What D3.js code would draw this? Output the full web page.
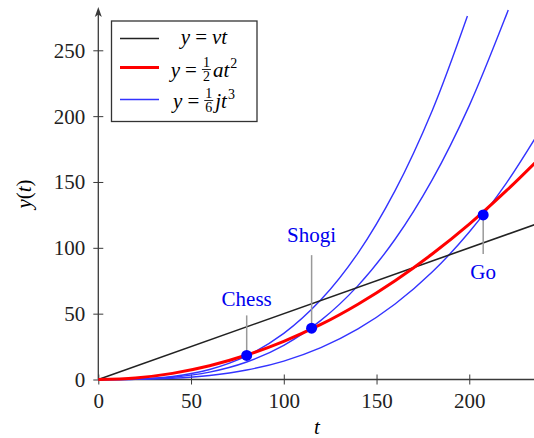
<!DOCTYPE html>
<html>
<head>
<meta charset="utf-8">
<script src="https://cdn.jsdelivr.net/npm/d3@7"></script>
<style>
  html, body { margin: 0; padding: 0; background: #fff; }
  svg { display: block; font-family: "Liberation Serif", "DejaVu Serif", serif; }
</style>
</head>
<body>
<svg id="chart" width="534" height="438"></svg>
<script>
// values
var tTicks = [0, 50, 100, 150, 200];
var yTicks = [0, 50, 100, 150, 200, 250];

var linearT = [0, 240];
var linearY = [0, 120];

var quadT = [0, 20, 40, 60, 80, 100, 120, 140, 160, 180, 200, 220, 240];
var quadY = [0, 1.16, 4.64, 10.4, 18.6, 29.0, 41.8, 57.2, 75.0, 95.3, 118.0, 143.4, 171.0];

var chessT = [0, 20, 40, 60, 80, 100, 120, 140, 160, 180, 199];
var chessY = [0, 0.28, 2.24, 7.56, 17.9, 35.0, 60.5, 96.0, 143.4, 204.1, 276];

var shogiT = [0, 20, 40, 60, 80, 100, 120, 140, 160, 180, 200, 220, 221];
var shogiY = [0, 0.21, 1.66, 5.62, 13.3, 26.0, 44.9, 71.3, 106.5, 151.6, 208.0, 276.9, 280.6];

var goT = [0, 20, 40, 60, 80, 100, 120, 140, 160, 180, 200, 220, 240];
var goY = [0, 0.11, 0.90, 3.02, 7.17, 14.0, 24.2, 38.4, 57.3, 81.6, 112.0, 149.1, 193.5];

var games = ["Chess", "Shogi", "Go"];
var gameT = [80, 115, 207.5];
var gameY = [18.3, 39.0, 125.0];

var svg = d3.select("#chart");

var x = d3.scaleLinear().domain([0, 235]).range([98.3, 534.2]);
var y = d3.scaleLinear().domain([0, 280]).range([379.5, 10.8]);

var zip = function(ts, ys) { return ts.map(function(t, i) { return [t, ys[i]]; }); };

var line = d3.line()
  .x(function(d) { return x(d[0]); })
  .y(function(d) { return y(d[1]); })
  .curve(d3.curveCatmullRom.alpha(0.5));

svg.append("defs").append("clipPath").attr("id", "plot")
  .append("rect").attr("x", 98).attr("y", 0).attr("width", 440).attr("height", 381);

// axes
var axisColor = "#3a3a3a";

var xAxis = svg.append("g")
  .attr("transform", "translate(0," + y(0) + ")")
  .call(d3.axisBottom(x).tickValues(tTicks).tickSize(5));
xAxis.select(".domain").remove();
xAxis.selectAll(".tick line").attr("y1", -5).attr("y2", 5).attr("stroke", axisColor);
xAxis.selectAll(".tick text")
  .attr("y", 28).attr("dy", null)
  .attr("font-family", "Liberation Serif").attr("font-size", 21).attr("fill", "#222");

var yAxis = svg.append("g")
  .attr("transform", "translate(" + x(0) + ",0)")
  .call(d3.axisLeft(y).tickValues(yTicks).tickSize(5));
yAxis.select(".domain").remove();
yAxis.selectAll(".tick line").attr("x1", -5).attr("x2", 5).attr("stroke", axisColor);
yAxis.selectAll(".tick text")
  .attr("x", -13).attr("dy", "0.33em")
  .attr("font-family", "Liberation Serif").attr("font-size", 21).attr("fill", "#222");

svg.append("line")
  .attr("x1", x(0)).attr("x2", 540).attr("y1", y(0)).attr("y2", y(0))
  .attr("stroke", axisColor).attr("stroke-width", 1.3);
svg.append("line")
  .attr("x1", x(0)).attr("x2", x(0)).attr("y1", y(0)).attr("y2", 14)
  .attr("stroke", axisColor).attr("stroke-width", 1.3);
svg.append("path")
  .attr("d", "M" + x(0) + ",7 L" + (x(0) - 3.5) + ",17 L" + x(0) + ",14.5 L" + (x(0) + 3.5) + ",17 Z")
  .attr("fill", axisColor);

// curves
var plot = svg.append("g").attr("clip-path", "url(#plot)");

var blueCurves = [zip(chessT, chessY), zip(shogiT, shogiY), zip(goT, goY)];
plot.selectAll("path.cubic").data(blueCurves).enter().append("path")
  .attr("class", "cubic")
  .attr("d", line)
  .attr("fill", "none").attr("stroke", "#3333ff").attr("stroke-width", 1.4);

plot.append("path")
  .attr("d", line(zip(linearT, linearY)))
  .attr("fill", "none").attr("stroke", "#222").attr("stroke-width", 1.6);

plot.append("path")
  .attr("d", line(zip(quadT, quadY)))
  .attr("fill", "none").attr("stroke", "#ff0000").attr("stroke-width", 3);

// game markers
var pinLen = [40, 73, -39];
var labelGap = [9, 13, -25];
var mark = svg.selectAll("g.game").data(games).enter().append("g").attr("class", "game");

mark.append("line")
  .attr("x1", function(d, i) { return x(gameT[i]); })
  .attr("x2", function(d, i) { return x(gameT[i]); })
  .attr("y1", function(d, i) { return y(gameY[i]); })
  .attr("y2", function(d, i) { return y(gameY[i]) - pinLen[i]; })
  .attr("stroke", "#999").attr("stroke-width", 1.5);

mark.append("circle")
  .attr("cx", function(d, i) { return x(gameT[i]); })
  .attr("cy", function(d, i) { return y(gameY[i]); })
  .attr("r", 5.5).attr("fill", "#0000ff");

mark.append("text")
  .attr("x", function(d, i) { return x(gameT[i]); })
  .attr("y", function(d, i) { return y(gameY[i]) - pinLen[i] - labelGap[i]; })
  .attr("text-anchor", "middle")
  .attr("font-size", 21).attr("fill", "#0000ee")
  .text(function(d) { return d; });

// axis labels
svg.append("text")
  .attr("x", 317).attr("y", 434)
  .attr("text-anchor", "middle").attr("font-size", 21).attr("font-style", "italic")
  .text("t");

var ylab = svg.append("text")
  .attr("transform", "translate(31,194) rotate(-90)")
  .attr("text-anchor", "middle").attr("font-size", 21);
ylab.append("tspan").attr("font-style", "italic").text("y");
ylab.append("tspan").text("(");
ylab.append("tspan").attr("font-style", "italic").text("t");
ylab.append("tspan").text(")");

// legend
var legend = svg.append("g");
legend.append("rect")
  .attr("x", 111.5).attr("y", 21).attr("width", 145.5).attr("height", 100.5)
  .attr("fill", "#fff").attr("stroke", "#333").attr("stroke-width", 1.3);

var legendRows = [
  { color: "#222", width: 1.6, ly: 38.5, base: 44,
    parts: [{ t: "y", i: true }, { eq: true }, { t: "vt", i: true }] },
  { color: "#ff0000", width: 3, ly: 67.5, base: 76.5,
    parts: [{ t: "y", i: true }, { eq: true }, { frac: ["1", "2"] }, { t: "at", i: true }, { sup: "2" }] },
  { color: "#3333ff", width: 1.4, ly: 99.5, base: 107.5,
    parts: [{ t: "y", i: true }, { eq: true }, { frac: ["1", "6"] }, { t: "jt", i: true }, { sup: "3" }] }
];

legendRows.forEach(function(row) {
  legend.append("line")
    .attr("x1", 120).attr("x2", 159).attr("y1", row.ly).attr("y2", row.ly)
    .attr("stroke", row.color).attr("stroke-width", row.width);

  var g = legend.append("g");
  var cx = 0;
  row.parts.forEach(function(p) {
    if (p.frac) {
      var n = g.append("text").attr("x", cx + 1).attr("y", row.base - 9.5).attr("font-size", 14).text(p.frac[0]);
      var w = n.node().getComputedTextLength();
      g.append("text").attr("x", cx + 1).attr("y", row.base + 4).attr("font-size", 14).text(p.frac[1]);
      g.append("line").attr("x1", cx).attr("x2", cx + w + 2)
        .attr("y1", row.base - 7).attr("y2", row.base - 7)
        .attr("stroke", "#111").attr("stroke-width", 0.9);
      cx += w + 4;
    } else if (p.sup) {
      var s = g.append("text").attr("x", cx + 1).attr("y", row.base - 9).attr("font-size", 14).text(p.sup);
      cx += s.node().getComputedTextLength() + 1;
    } else if (p.eq) {
      cx += 5;
      var e = g.append("text").attr("x", cx).attr("y", row.base).attr("font-size", 21).text("=");
      cx += e.node().getComputedTextLength() + 5;
    } else {
      var t = g.append("text").attr("x", cx).attr("y", row.base).attr("font-size", 21)
        .attr("font-style", p.i ? "italic" : null).text(p.t);
      cx += t.node().getComputedTextLength();
    }
  });
  g.attr("transform", "translate(" + (204 - cx / 2) + ",0)");
});
</script>
</body>
</html>
